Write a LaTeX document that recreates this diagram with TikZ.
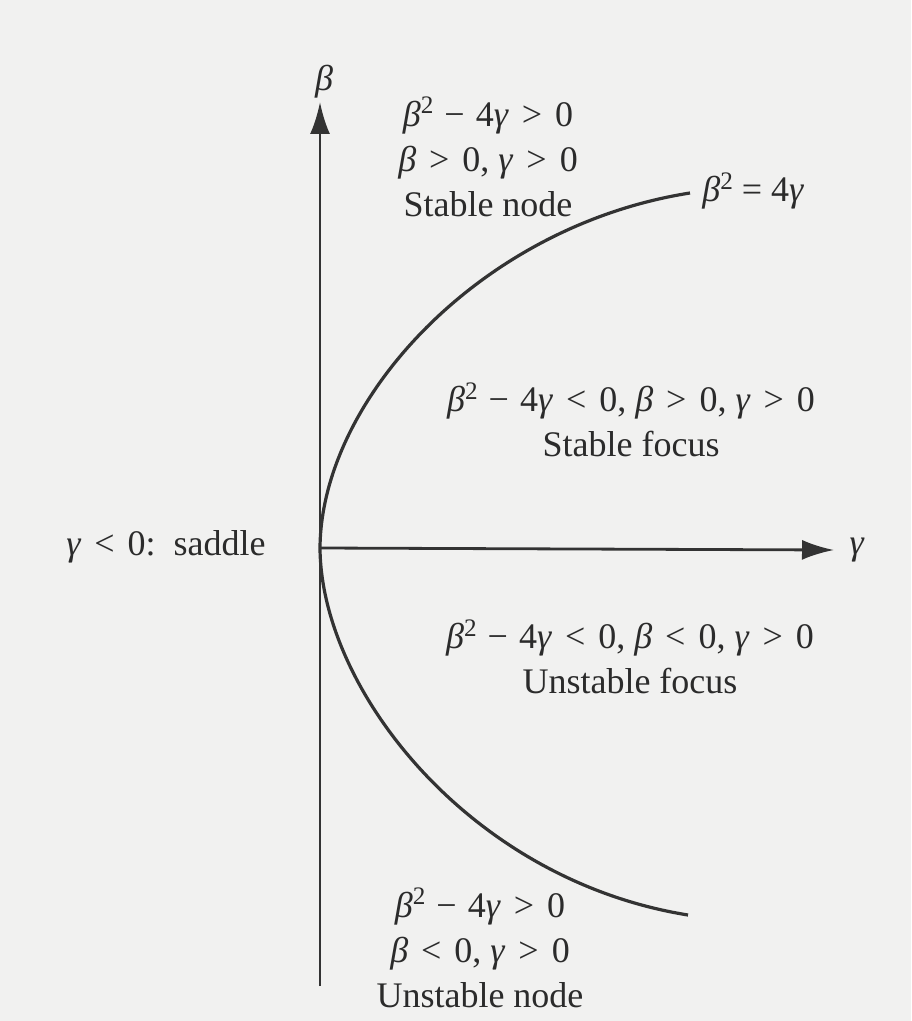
\documentclass[tikz,border=0pt]{standalone}
\usepackage{fontspec}
\setmainfont{Liberation Serif}
\usepackage{xcolor}
\usepackage{tikz}
\usetikzlibrary{arrows.meta}
\definecolor{paper}{HTML}{F1F1F0}
\definecolor{inkgray}{HTML}{333333}
\definecolor{textgray}{HTML}{2B2B2B}
\newcommand{\bet}{\textit{β}}
\newcommand{\gam}{\textit{γ}}
\newcommand{\sq}{\textsuperscript{2}\hspace{4pt}}
\newcommand{\rgt}{\hspace{2pt} > \hspace{2pt}}
\newcommand{\rlt}{\hspace{2pt} < \hspace{2pt}}
\newcommand{\rmin}{\hspace{1pt}− \hspace{1pt}}

\begin{document}
\begin{tikzpicture}[x=.5pt,y=-.5pt,>=Stealth,
    axis/.style={inkgray,line width=1.4pt},
    curve/.style={inkgray,line width=1.6pt},
    lbl/.style={textgray,font=\fontsize{18}{22.5}\selectfont,align=center,inner sep=0pt}]
  \fill[paper] (0,0) rectangle (911,1021);
  \useasboundingbox (0,0) rectangle (911,1021);

  % axes
  \coordinate (o) at (320,548);
  \coordinate (bbot) at (320,986);
  \coordinate (btop) at (320,102);
  \coordinate (gend) at (834,550);
  \draw[axis,-{Latex[length=16pt,width=10pt]}] (bbot) -- (btop);
  \draw[axis,-{Latex[length=16pt,width=10pt]}] (o) -- (gend);
  \node[lbl] (blab) at (324,82) {\bet};
  \node[lbl] (glab) at (857,550) {\gam};

  % the curve beta^2 = 4 gamma
  \coordinate (ctop) at (690,193);
  \coordinate (cbot) at (688,915);
  \draw[curve] (ctop) .. controls (480,226) and (321,400) .. (o)
    .. controls (321,690) and (470,880) .. (cbot);
  \node[lbl,anchor=west] (clab) at (702,191) {\bet\sq{}= 4\gam};

  % regions
  \node[lbl] (snode) at (488,157)
    {\bet\sq{}\rmin{}4\gam{}\rgt{}0\\ \bet{}\rgt{}0, \gam{}\rgt{}0\\ Stable node};
  \node[lbl] (sfocus) at (631,420)
    {\bet\sq{}\rmin{}4\gam{}\rlt{}0, \bet{}\rgt{}0, \gam{}\rgt{}0\\ Stable focus};
  \node[lbl] (saddle) at (166,547) {\gam{}\rlt{}0:\ \ saddle};
  \node[lbl] (ufocus) at (630,657)
    {\bet\sq{}\rmin{}4\gam{}\rlt{}0, \bet{}\rlt{}0, \gam{}\rgt{}0\\ Unstable focus};
  \node[lbl] (unode) at (480,948)
    {\bet\sq{}\rmin{}4\gam{}\rgt{}0\\ \bet{}\rlt{}0, \gam{}\rgt{}0\\ Unstable node};
\end{tikzpicture}
\end{document}
